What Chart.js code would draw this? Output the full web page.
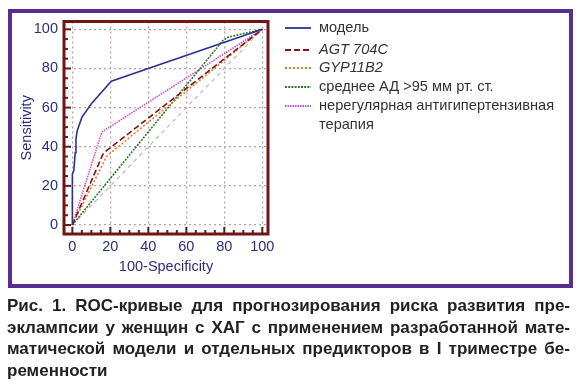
<!DOCTYPE html>
<html><head><meta charset="utf-8">
<script src="https://cdn.jsdelivr.net/npm/chart.js@4.4.1/dist/chart.umd.min.js"></script>
<style>
html,body{margin:0;padding:0;background:#fff;width:582px;height:390px;overflow:hidden;}
#wrap{position:relative;width:582px;height:390px;}
#c{position:absolute;left:0;top:0;}
#box{position:absolute;left:8px;top:9px;width:565px;height:279px;border:4px solid #5b2d8f;box-sizing:border-box;pointer-events:none;}
.leg{position:absolute;left:319px;font:14.6px "Liberation Sans",Arial,sans-serif;color:#333;line-height:18px;white-space:nowrap;}
.sw{position:absolute;left:285px;width:26px;height:4px;line-height:0;}
.sw svg{display:block;}
#cap{position:absolute;left:7px;top:295px;width:563px;font:bold 17px "Liberation Sans",Arial,sans-serif;color:#222;line-height:21.7px;}
#cap div{text-align:justify;text-align-last:justify;white-space:nowrap;}
#cap div.last{text-align:left;text-align-last:left;}
</style></head>
<body><div id="wrap">
<canvas id="c" width="582" height="290"></canvas>
<div id="box"></div>
<div id="legend"></div>
<div id="cap">
<div>Рис. 1. ROC-кривые для прогнозирования риска развития пре-</div>
<div>эклампсии у женщин с ХАГ с применением разработанной мате-</div>
<div>матической модели и отдельных предикторов в I триместре бе-</div>
<div class="last">ременности</div>
</div>
</div>
<script>
// ---- data ----
const tickValues = [0, 20, 40, 60, 80, 100];
const seriesNames = ["модель", "AGT 704C", "GYP11B2", "среднее АД >95 мм рт. ст.", "нерегулярная антигипертензивная терапия"];
const modelX = [0, 0, 0.8, 1.5, 1.9, 2.5, 3.2, 5, 10, 20.5, 100];
const modelY = [0, 26, 28, 37, 44, 48, 50, 55, 62, 73.5, 100];
const agtX = [0, 16, 18, 100];
const agtY = [0, 36, 38, 100];
const gypX = [0, 18, 21, 100];
const gypY = [0, 35, 37.5, 100];
const madX = [0, 79, 82, 100];
const madY = [0, 94, 96, 100];
const irrX = [0, 15.5, 100];
const irrY = [0, 47.5, 100];
const diagX = [0, 100];
const diagY = [0, 100];

const colors = ["#2e3190", "#7d1616", "#ee7a22", "#2a7a2a", "#d050d0"];
const dashes = [[], [6, 3], [2, 2], [2, 1.2], [1.5, 1]];
const italic = [false, true, true, false, false];

function pts(xs, ys){ return xs.map((x,i)=>({x:x, y:ys[i]})); }

const series = [[modelX,modelY],[agtX,agtY],[gypX,gypY],[madX,madY],[irrX,irrY]];
const datasets = series.map((s,i)=>({
  label: seriesNames[i], data: pts(s[0], s[1]), borderColor: colors[i],
  borderWidth: 1.6, borderDash: dashes[i], showLine: true,
  pointRadius: 0, tension: 0, fill: false
}));
datasets.push({label:"diag", data: pts(diagX, diagY), borderColor:"#b9b9b9", borderWidth:1.2,
  borderDash:[4,4], showLine:true, pointRadius:0});

// legend (HTML)
const legTop = [27, 49, 67, 86, 105];
const legLine = [28, 49.5, 68, 87, 106];
const leg = document.getElementById('legend');
seriesNames.forEach((n,i)=>{
  const sw = document.createElement('div');
  sw.className='sw'; sw.style.top=(legLine[i]-2)+'px';
  const d = dashes[i].length ? ` stroke-dasharray="${dashes[i].join(' ')}"` : '';
  sw.innerHTML = `<svg width="26" height="4"><line x1="0" y1="2" x2="26" y2="2" stroke="${colors[i]}" stroke-width="1.8"${d}/></svg>`;
  leg.appendChild(sw);
  if (i === 4) {
    const a = document.createElement('div'); a.className='leg'; a.style.top=(legTop[i]-9)+'px';
    a.textContent = "нерегулярная антигипертензивная"; leg.appendChild(a);
    const b = document.createElement('div'); b.className='leg'; b.style.top=(legTop[i]+19-9)+'px';
    b.textContent = "терапия"; leg.appendChild(b);
  } else {
    const t = document.createElement('div'); t.className='leg'; t.style.top=(legTop[i]-9)+'px';
    if (italic[i]) t.style.fontStyle='italic';
    t.textContent = n; leg.appendChild(t);
  }
});

const frame = {
  id:'frame',
  afterDatasetsDraw(chart){
    const {ctx, chartArea:a, scales:{x, y}} = chart;
    ctx.save();
    ctx.strokeStyle = '#6e1515';
    ctx.lineWidth = 2;
    for (let v = 0; v <= 100; v += 5) {
      const L = v % 20 === 0 ? 7 : 4;
      const px = x.getPixelForValue(v);
      ctx.beginPath(); ctx.moveTo(px, a.bottom); ctx.lineTo(px, a.bottom - L); ctx.stroke();
      const py = y.getPixelForValue(v);
      ctx.beginPath(); ctx.moveTo(a.left, py); ctx.lineTo(a.left + L, py); ctx.stroke();
    }
    ctx.lineWidth = 3;
    ctx.strokeRect(a.left, a.top, a.right - a.left, a.bottom - a.top);
    ctx.restore();
  }
};

Chart.defaults.font.family = '"Liberation Sans", Arial, sans-serif';
const axisColor = '#2c2f7d';
new Chart(document.getElementById('c'), {
  type: 'scatter',
  data: { datasets },
  options: {
    responsive: false, animation: false,
    layout: { padding: { left: 0, top: 21.5, right: 314, bottom: 0 } },
    plugins: { legend: { display: false }, tooltip: { enabled: false } },
    scales: {
      x: {
        type: 'linear', min: -4.4, max: 103,
        afterBuildTicks: s => { s.ticks = tickValues.map(v => ({value: v})); },
        afterFit: s => { s.height = 56; },
        grid: { color: '#b8a3a3', lineWidth: 1.3, drawTicks: false },
        border: { display: false, dash: [2, 3] },
        ticks: { color: axisColor, font: { size: 14.5 }, padding: 4, maxRotation: 0 },
        title: { display: true, text: '100-Specificity', color: axisColor, font: { size: 14.5 }, padding: { top: 0, bottom: 14 } }
      },
      y: {
        type: 'linear', min: -4.6, max: 104,
        afterBuildTicks: s => { s.ticks = tickValues.map(v => ({value: v})); },
        afterFit: s => { s.width = 64; },
        grid: { color: '#b8a3a3', lineWidth: 1.3, drawTicks: false },
        border: { display: false, dash: [2, 3] },
        ticks: { color: axisColor, font: { size: 14.5 }, padding: 6 },
        title: { display: true, text: 'Sensitivity', color: axisColor, font: { size: 14.5 }, padding: { top: 18, bottom: 0 } }
      }
    }
  },
  plugins: [frame]
});
</script>
</body></html>
